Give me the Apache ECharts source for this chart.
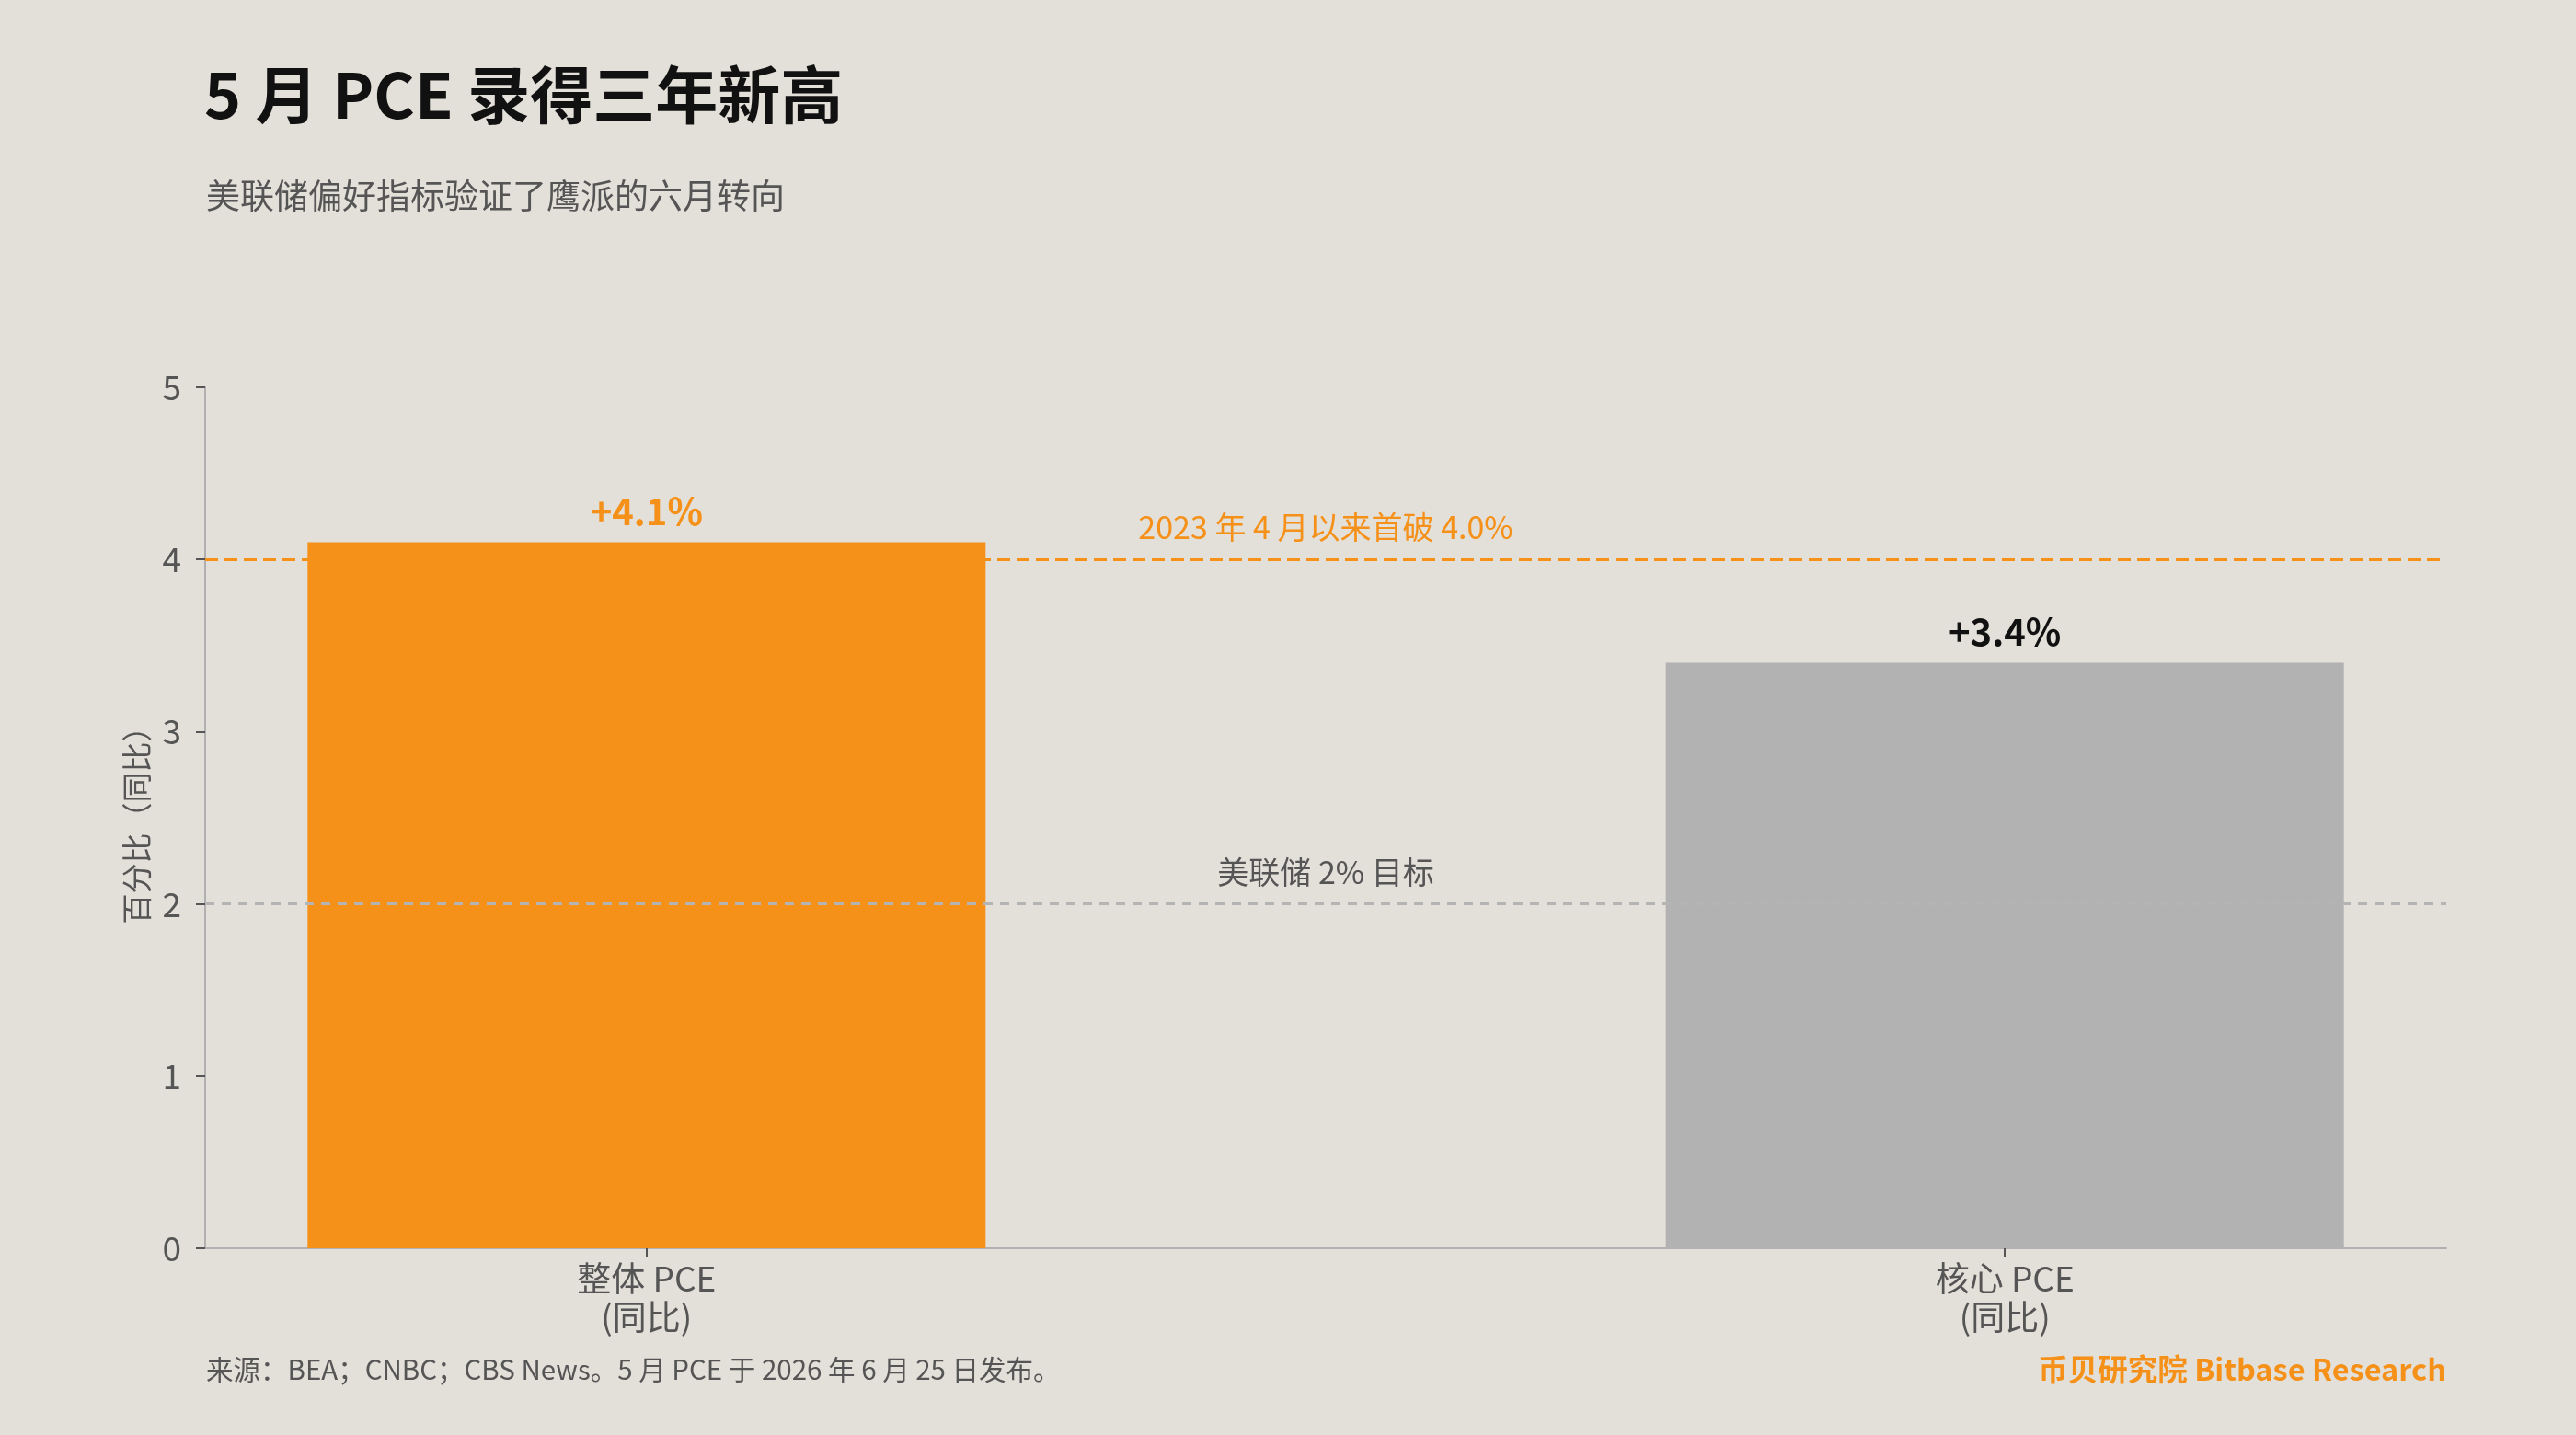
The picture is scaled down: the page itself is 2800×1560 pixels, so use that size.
<!DOCTYPE html>
<html>
<head>
<meta charset="utf-8">
<script src="https://cdn.jsdelivr.net/npm/echarts@6/dist/echarts.min.js"></script>
<style>
  html, body { margin: 0; padding: 0; background: #E3DFD9; }
  #chart { width: 2800px; height: 1560px; }
</style>
</head>
<body>
<div id="chart"></div>
<script>
const categories = ["整体 PCE\n(同比)", "核心 PCE\n(同比)"];
const values = [4.1, 3.4];
const valueLabels = ["+4.1%", "+3.4%"];
const yTicks = [0, 1, 2, 3, 4, 5];
const refLines = [
  { value: 4, label: "2023 年 4 月以来首破 4.0%" },
  { value: 2, label: "美联储 2% 目标" },
];

const FONT = "'Noto Sans CJK SC', 'Noto Sans', sans-serif";
const ORANGE = "#F59018";
const GREY_BAR = "#B2B2B2";

const chart = echarts.init(document.getElementById("chart"));

const option = {
  backgroundColor: "#E3DFD9",
  textStyle: { fontFamily: FONT },
  title: [
    {
      text: "5 月 PCE 录得三年新高",
      left: 222,
      top: 69,
      padding: 0,
      textStyle: { fontFamily: FONT, fontSize: 68, fontWeight: "bold", color: "#111111" },
    },
    {
      text: "美联储偏好指标验证了鹰派的六月转向",
      left: 224,
      top: 194,
      padding: 0,
      textStyle: { fontFamily: FONT, fontSize: 37, fontWeight: "normal", color: "#555555" },
    },
    {
      text: "来源：BEA；CNBC；CBS News。5 月 PCE 于 2026 年 6 月 25 日发布。",
      left: 224,
      top: 1474,
      padding: 0,
      textStyle: { fontFamily: FONT, fontSize: 29.5, fontWeight: "normal", color: "#555555" },
    },
    {
      text: "币贝研究院 Bitbase Research",
      right: 141,
      top: 1472,
      padding: 0,
      textStyle: { fontFamily: FONT, fontSize: 32.5, fontWeight: "bold", color: ORANGE },
    },
  ],
  grid: { left: 223, right: 141, top: 421, bottom: 203 },
  xAxis: {
    type: "value",
    min: -0.325,
    max: 1.325,
    splitLine: { show: false },
    axisLine: { show: true, onZero: false, lineStyle: { color: "#B0B0B0", width: 2 } },
    axisTick: {
      show: true,
      customValues: [0, 1],
      length: 10,
      lineStyle: { color: "#555555", width: 2 },
    },
    axisLabel: {
      customValues: [0, 1],
      formatter: (v) => categories[Math.round(v)],
      fontFamily: FONT,
      fontSize: 37,
      lineHeight: 42,
      color: "#555555",
      margin: 12,
    },
  },
  yAxis: {
    type: "value",
    min: yTicks[0],
    max: yTicks[yTicks.length - 1],
    interval: 1,
    name: "百分比（同比）",
    nameLocation: "middle",
    nameRotate: 90,
    nameGap: 58,
    nameTextStyle: { fontFamily: FONT, fontSize: 33, color: "#555555" },
    splitLine: { show: false },
    axisLine: { show: true, onZero: false, lineStyle: { color: "#B0B0B0", width: 2 } },
    axisTick: { show: true, length: 10, lineStyle: { color: "#555555", width: 2 } },
    axisLabel: { fontFamily: FONT, fontSize: 37, color: "#555555", margin: 26 },
  },
  series: [
    {
      type: "line",
      data: [],
      z: 1,
      silent: true,
      markLine: {
        symbol: "none",
        silent: true,
        data: [
          {
            yAxis: refLines[0].value,
            lineStyle: { color: ORANGE, width: 3, type: [14, 7] },
            label: {
              formatter: refLines[0].label,
              position: "insideMiddleTop",
              distance: 18,
              fontFamily: FONT,
              fontSize: 34,
              color: ORANGE,
            },
          },
          {
            yAxis: refLines[1].value,
            lineStyle: { color: "#B4B4B4", width: 3, type: [10, 8] },
            label: {
              formatter: refLines[1].label,
              position: "insideMiddleTop",
              distance: 18,
              fontFamily: FONT,
              fontSize: 34,
              color: "#555555",
            },
          },
        ],
      },
    },
    {
      type: "bar",
      z: 2,
      barWidth: 737,
      data: values.map((v, i) => ({
        value: [i, v],
        itemStyle: { color: i === 0 ? ORANGE : GREY_BAR },
        label: {
          show: true,
          position: "top",
          distance: 14,
          formatter: valueLabels[i],
          fontFamily: FONT,
          fontSize: 40,
          fontWeight: "bold",
          color: i === 0 ? ORANGE : "#111111",
        },
      })),
    },
  ],
};

chart.setOption(option);
</script>
</body>
</html>
